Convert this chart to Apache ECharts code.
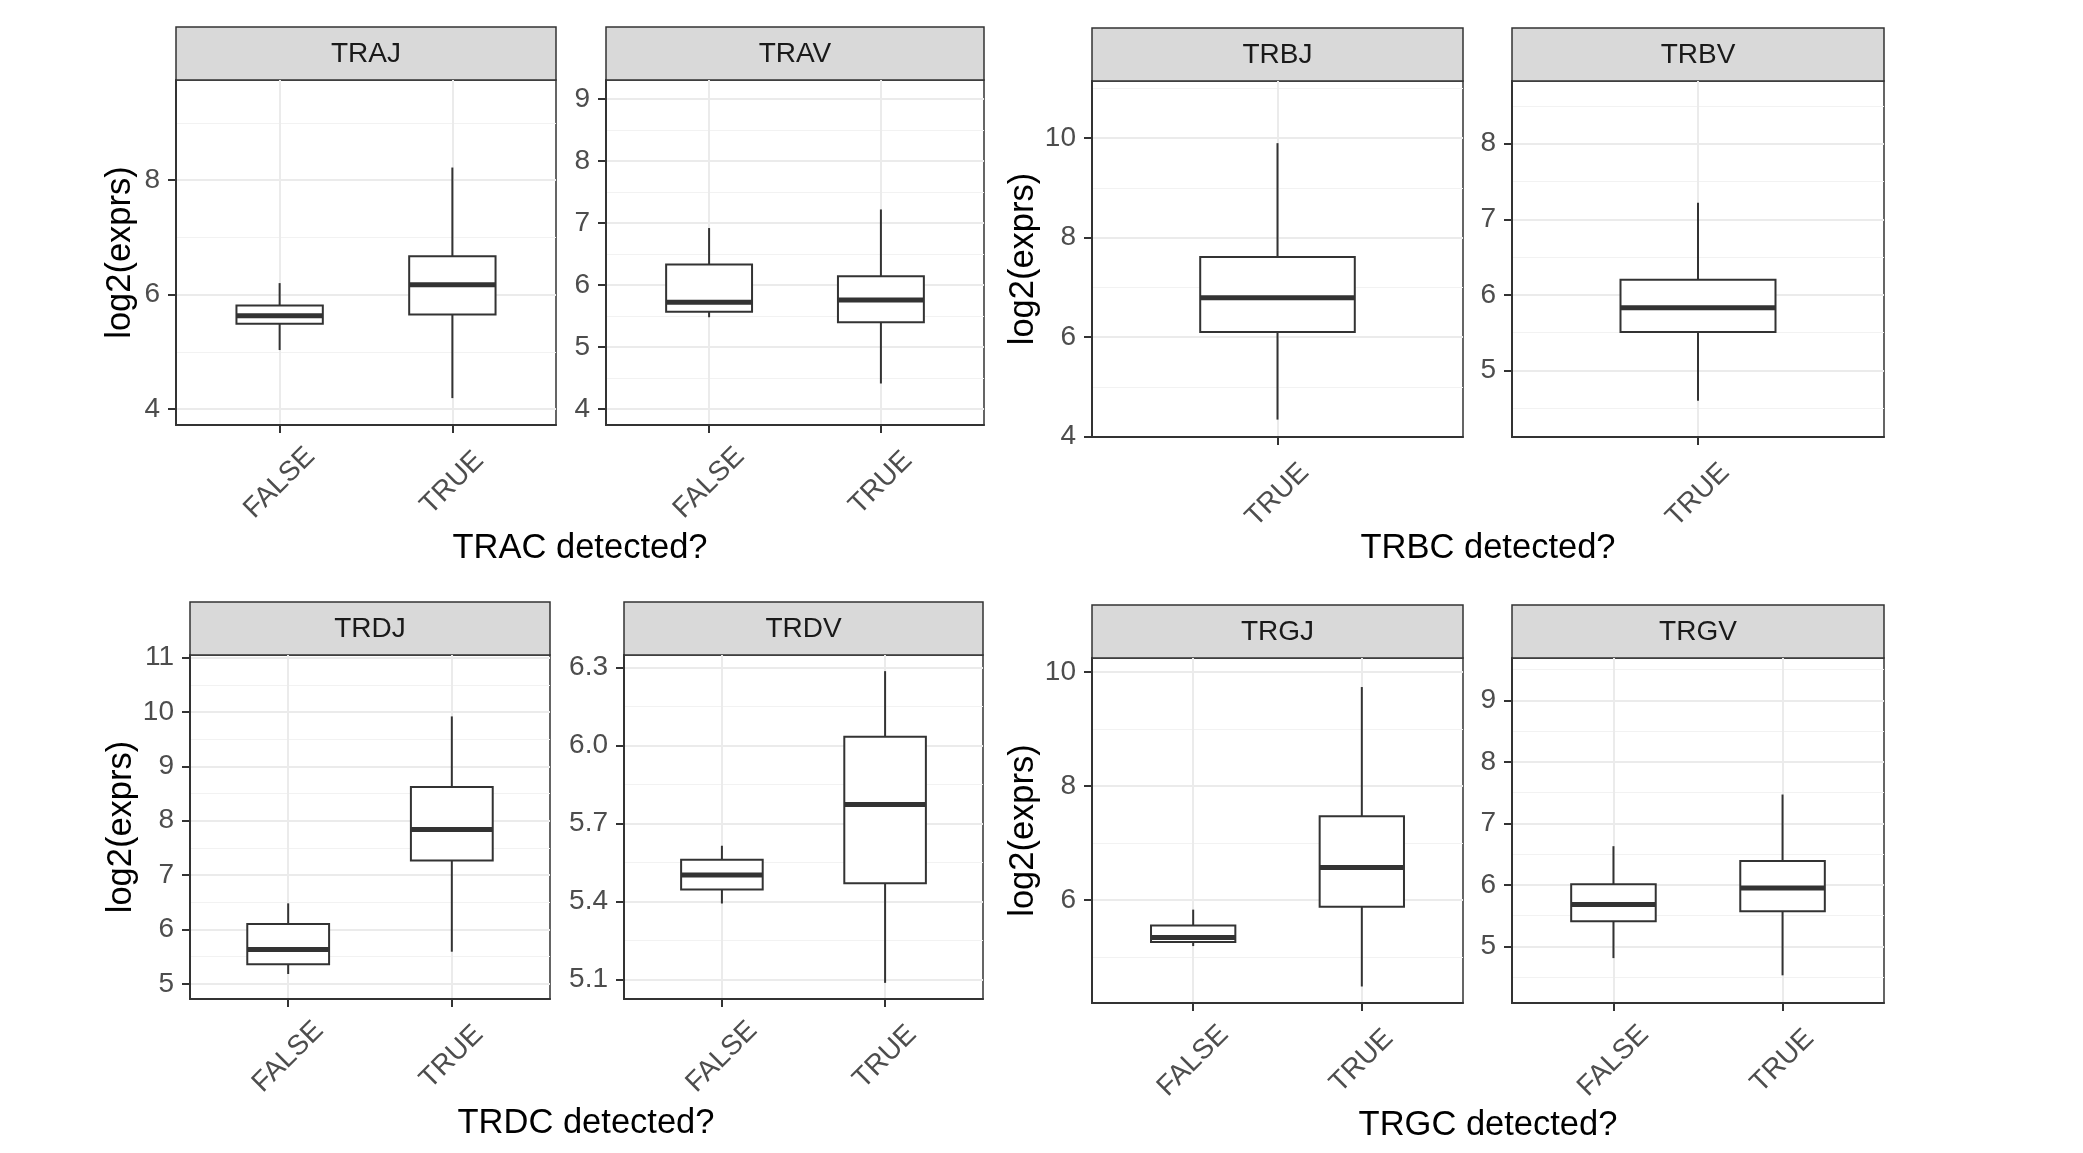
<!DOCTYPE html>
<html>
<head>
<meta charset="utf-8">
<title>log2(exprs) by TR constant detection</title>
<script src="https://cdn.jsdelivr.net/npm/echarts@6/dist/echarts.min.js"></script>
<style>
  html, body { margin: 0; padding: 0; background: #fff; }
  #main { width: 2083px; height: 1153px; }
</style>
</head>
<body>
<div id="main"></div>
<script>
// x categories
var bothCats = ['FALSE', 'TRUE'];
var trueOnly = ['TRUE'];

// box stats per category: [lower whisker, Q1, median, Q3, upper whisker]
var trajStats = [[5.03, 5.49, 5.63, 5.81, 6.20], [4.19, 5.65, 6.17, 6.67, 8.22]];
var travStats = [[5.48, 5.57, 5.72, 6.33, 6.92], [4.41, 5.40, 5.76, 6.14, 7.22]];
var trbjStats = [[4.34, 6.10, 6.79, 7.61, 9.90]];
var trbvStats = [[4.60, 5.51, 5.83, 6.20, 7.22]];
var trdjStats = [[5.18, 5.36, 5.63, 6.10, 6.48], [5.59, 7.27, 7.84, 8.62, 9.92]];
var trdvStats = [[5.393, 5.447, 5.503, 5.561, 5.615], [5.088, 5.471, 5.773, 6.034, 6.286]];
var trgjStats = [[5.19, 5.26, 5.34, 5.55, 5.83], [4.48, 5.88, 6.57, 7.47, 9.74]];
var trgvStats = [[4.81, 5.41, 5.68, 6.01, 6.63], [4.53, 5.57, 5.95, 6.39, 7.47]];

// y tick labels
var trajTicks = [4, 6, 8];
var travTicks = [4, 5, 6, 7, 8, 9];
var trbjTicks = [4, 6, 8, 10];
var trbvTicks = [5, 6, 7, 8];
var trdjTicks = [5, 6, 7, 8, 9, 10, 11];
var trdvTicks = [5.1, 5.4, 5.7, 6.0, 6.3];
var trgjTicks = [6, 8, 10];
var trgvTicks = [5, 6, 7, 8, 9];

// visible y ranges
var trajRange = [3.72, 9.75];
var travRange = [3.74, 9.31];
var trbjRange = [3.99, 11.15];
var trbvRange = [4.12, 8.83];
var trdjRange = [4.72, 11.05];
var trdvRange = [5.026, 6.348];
var trgjRange = [4.19, 10.25];
var trgvRange = [4.08, 9.69];

var FONT = '"Liberation Sans", Arial, sans-serif';
var TICK_SIZE = 28;
var TITLE_SIZE = 34.5;

var panels = [
    {name: 'TRAJ', cats: bothCats, stats: trajStats, ticks: trajTicks, range: trajRange, box: [176, 80, 380, 345], ytitle: true},
    {name: 'TRAV', cats: bothCats, stats: travStats, ticks: travTicks, range: travRange, box: [606, 80, 378, 345]},
    {name: 'TRBJ', cats: trueOnly, stats: trbjStats, ticks: trbjTicks, range: trbjRange, box: [1092, 81, 371, 356], ytitle: true},
    {name: 'TRBV', cats: trueOnly, stats: trbvStats, ticks: trbvTicks, range: trbvRange, box: [1512, 81, 372, 356]},
    {name: 'TRDJ', cats: bothCats, stats: trdjStats, ticks: trdjTicks, range: trdjRange, box: [190, 655, 360, 344], ytitle: true},
    {name: 'TRDV', cats: bothCats, stats: trdvStats, ticks: trdvTicks, range: trdvRange, box: [624, 655, 359, 344], dec: 1},
    {name: 'TRGJ', cats: bothCats, stats: trgjStats, ticks: trgjTicks, range: trgjRange, box: [1092, 658, 371, 345], ytitle: true},
    {name: 'TRGV', cats: bothCats, stats: trgvStats, ticks: trgvTicks, range: trgvRange, box: [1512, 658, 372, 345]}
];

var groupTitles = [
    {text: 'TRAC detected?', x: 580, y: 548},
    {text: 'TRBC detected?', x: 1488, y: 548},
    {text: 'TRDC detected?', x: 586, y: 1123},
    {text: 'TRGC detected?', x: 1488, y: 1125}
];

function minorTicks(ticks, range) {
    var step = ticks.length > 1 ? ticks[1] - ticks[0] : 1;
    var out = [];
    var v = ticks[0] - step / 2;
    while (v < range[1]) {
        if (v > range[0]) out.push(+v.toFixed(4));
        v += step;
    }
    return out;
}

function renderBox(params, api) {
    var x = api.value(0);
    var half = 0.25;
    var lo = api.coord([x, api.value(1)]);
    var q1 = api.coord([x, api.value(2)]);
    var md = api.coord([x, api.value(3)]);
    var q3 = api.coord([x, api.value(4)]);
    var hi = api.coord([x, api.value(5)]);
    var l = api.coord([x - half, api.value(3)])[0];
    var r = api.coord([x + half, api.value(3)])[0];
    var line = {stroke: '#333333', lineWidth: 2};
    return {
        type: 'group',
        children: [
            {type: 'line', shape: {x1: lo[0], y1: lo[1], x2: q1[0], y2: q1[1]}, style: line},
            {type: 'line', shape: {x1: q3[0], y1: q3[1], x2: hi[0], y2: hi[1]}, style: line},
            {type: 'rect', shape: {x: l, y: q3[1], width: r - l, height: q1[1] - q3[1]},
                style: {fill: '#ffffff', stroke: '#333333', lineWidth: 2}},
            {type: 'line', shape: {x1: l, y1: md[1], x2: r, y2: md[1]}, style: {stroke: '#333333', lineWidth: 5}}
        ]
    };
}

var grids = [], xAxes = [], yAxes = [], series = [], graphics = [];

panels.forEach(function (p, i) {
    var b = p.box;
    var n = p.cats.length;
    var pos = p.cats.map(function (c, k) { return k + 1; });
    grids.push({left: b[0], top: b[1], width: b[2], height: b[3], show: true,
        borderColor: '#333333', borderWidth: 1.5, outerBoundsMode: 'none'});

    xAxes.push({
        type: 'value', gridIndex: i, min: 0.4, max: n + 0.6,
        axisLine: {show: true, onZero: false, lineStyle: {color: '#333333', width: 2}},
        axisTick: {show: true, length: 8, customValues: pos, lineStyle: {color: '#333333', width: 2}},
        axisLabel: {
            customValues: pos, rotate: 45, align: 'center', verticalAlign: 'middle', margin: 58,
            color: '#4d4d4d', fontSize: TICK_SIZE, fontFamily: FONT,
            formatter: function (v) { return p.cats[Math.round(v) - 1] || ''; }
        },
        splitLine: {show: true, lineStyle: {color: '#ebebeb', width: 2}}
    });

    yAxes.push({
        type: 'value', gridIndex: i, min: p.range[0], max: p.range[1],
        axisLine: {show: true, onZero: false, lineStyle: {color: '#333333', width: 2}},
        axisTick: {show: true, length: 8, customValues: p.ticks, lineStyle: {color: '#333333', width: 2}},
        axisLabel: {
            customValues: p.ticks, margin: 16, color: '#4d4d4d', fontSize: TICK_SIZE, fontFamily: FONT,
            formatter: function (v) { return p.dec ? v.toFixed(p.dec) : String(v); }
        },
        splitLine: {show: true, lineStyle: {color: '#ebebeb', width: 2}},
        name: p.ytitle ? 'log2(exprs)' : '',
        nameLocation: 'middle', nameRotate: 90, nameGap: 38,
        nameTextStyle: {color: '#000000', fontSize: TITLE_SIZE, fontFamily: FONT}
    });
    // minor grid lines
    var minors = minorTicks(p.ticks, p.range);
    yAxes.push({
        type: 'value', gridIndex: i, min: p.range[0], max: p.range[1], position: 'left',
        axisLine: {show: false}, axisTick: {show: false, customValues: minors},
        axisLabel: {show: false, customValues: minors},
        splitLine: {show: true, lineStyle: {color: '#f2f2f2', width: 1.2}}
    });

    series.push({
        type: 'custom', name: p.name, xAxisIndex: i, yAxisIndex: 2 * i,
        renderItem: renderBox, silent: true, z: 5,
        encode: {x: 0, y: [1, 2, 3, 4, 5]},
        data: p.stats.map(function (s, k) { return [k + 1].concat(s); })
    });

    graphics.push({
        type: 'rect', shape: {x: b[0], y: b[1] - 53, width: b[2], height: 53},
        style: {fill: '#d9d9d9', stroke: '#333333', lineWidth: 1.5}
    });
    graphics.push({
        type: 'text', x: b[0] + b[2] / 2, y: b[1] - 25.5,
        style: {text: p.name, fill: '#1a1a1a', fontSize: TICK_SIZE, fontFamily: FONT, align: 'center', verticalAlign: 'middle'}
    });
});

groupTitles.forEach(function (t) {
    graphics.push({
        type: 'text', x: t.x, y: t.y,
        style: {text: t.text, fill: '#000000', fontSize: TITLE_SIZE, fontFamily: FONT, align: 'center', verticalAlign: 'middle'}
    });
});

var chart = echarts.init(document.getElementById('main'));
var option = {
    backgroundColor: '#ffffff',
    animation: false,
    grid: grids,
    xAxis: xAxes,
    yAxis: yAxes,
    series: series,
    graphic: graphics
};
chart.setOption(option);
</script>
</body>
</html>
